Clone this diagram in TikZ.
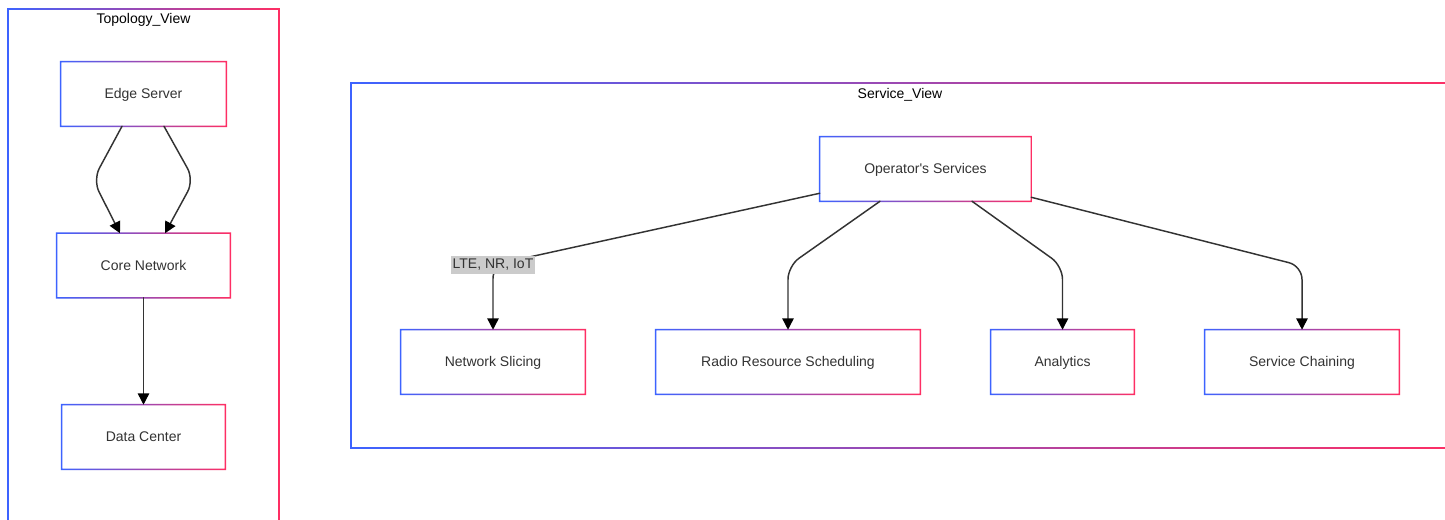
\documentclass[tikz,border=0pt]{standalone}
\usepackage{fontspec}
\setmainfont{Liberation Sans}
\usetikzlibrary{arrows.meta,calc,shadows}
\definecolor{gl}{HTML}{3D63FF}
\definecolor{gr}{HTML}{FF2E63}
\definecolor{txt}{HTML}{333333}
\definecolor{lblbg}{HTML}{CBCBCB}
% gradient border round a named node
\newcommand{\gradframe}[1]{\shade[left color=gl,right color=gr,even odd rule] ([shift={(-0.6pt,-0.6pt)}]#1.south west) rectangle ([shift={(0.6pt,0.6pt)}]#1.north east) ([shift={(0.5pt,0.5pt)}]#1.south west) rectangle ([shift={(-0.5pt,-0.5pt)}]#1.north east);}
% gradient border of a cluster, pixel corners
\newcommand{\gradcluster}[4]{\shade[left color=gl,right color=gr,even odd rule] (#1-0.8,#2-0.8) rectangle (#3+0.8,#4+0.8) (#1+0.8,#2+0.8) rectangle (#3-0.8,#4-0.8);}

\begin{document}
\begin{tikzpicture}[x=0.75pt,y=-0.75pt,line cap=round,line join=round,font=\fontsize{10.5}{12}\selectfont,
  box/.style={fill=white,text=txt,minimum height=48pt,inner sep=0pt,text height=8pt,text depth=1pt,drop shadow={opacity=0.12,shadow xshift=0.8pt,shadow yshift=-0.8pt}},
  edge/.style={draw=txt,line width=1.1pt,rounded corners=10pt,-{Triangle[length=8.5pt,width=8.5pt,color=black]}},
  lbl/.style={fill=lblbg,text=txt,inner sep=1.6pt,sharp corners,text height=8pt,text depth=2pt}]
\useasboundingbox (0,0) rectangle (1445,520);
\clip (0,0) rectangle (1445,520);
\fill[white] (0,0) rectangle (1445,520);
% clusters
\gradcluster{8}{9}{279}{540}
\node (topo) at (143.5,20) {Topology\_View};
\gradcluster{351}{83}{1462}{448}
\node (serv) at (900,95) {Service\_View};
% topology view
\node[box,minimum width=123.75pt] (es) at (143.5,94) {Edge Server};\gradframe{es}
\node[box,minimum width=129.75pt] (core) at (143.5,265.5) {Core Network};\gradframe{core}
\node[box,minimum width=122.25pt] (dc) at (143.5,437) {Data Center};\gradframe{dc}
\draw[edge] ($(es.south)+(-21.5,0)$) -- (93,180) -- ($(core.north)+(-23.5,0)$);
\draw[edge] ($(es.south)+(20.5,0)$) -- (194,180) -- ($(core.north)+(21.5,0)$);
\draw[edge] (core) -- (dc);
% service view
\node[box,minimum width=158.25pt] (ops) at (925.5,169) {Operator\textquotesingle s Services};\gradframe{ops}
\foreach \n/\x/\w/\t in {ns/493/138/Network Slicing,rrs/788/198/Radio Resource Scheduling,an/1062.5/107.25/Analytics,sc/1302/145.5/Service Chaining}{\node[box,minimum width=\w pt] (\n) at (\x,362) {\t};\gradframe{\n}}
\draw[edge] ($(ops.south west)+(0,-8)$) -- (493,265) node[lbl] (lte) {LTE, NR, IoT} -- (ns);
\draw[edge] ($(ops.south)+(-45.5,0)$) -- (788,266) -- (rrs);
\draw[edge] ($(ops.south)+(46.5,0)$) -- (1062.5,266) -- (an);
\draw[edge] ($(ops.south east)+(0,-4)$) -- (1302,266) -- (sc);
\end{tikzpicture}
\end{document}
